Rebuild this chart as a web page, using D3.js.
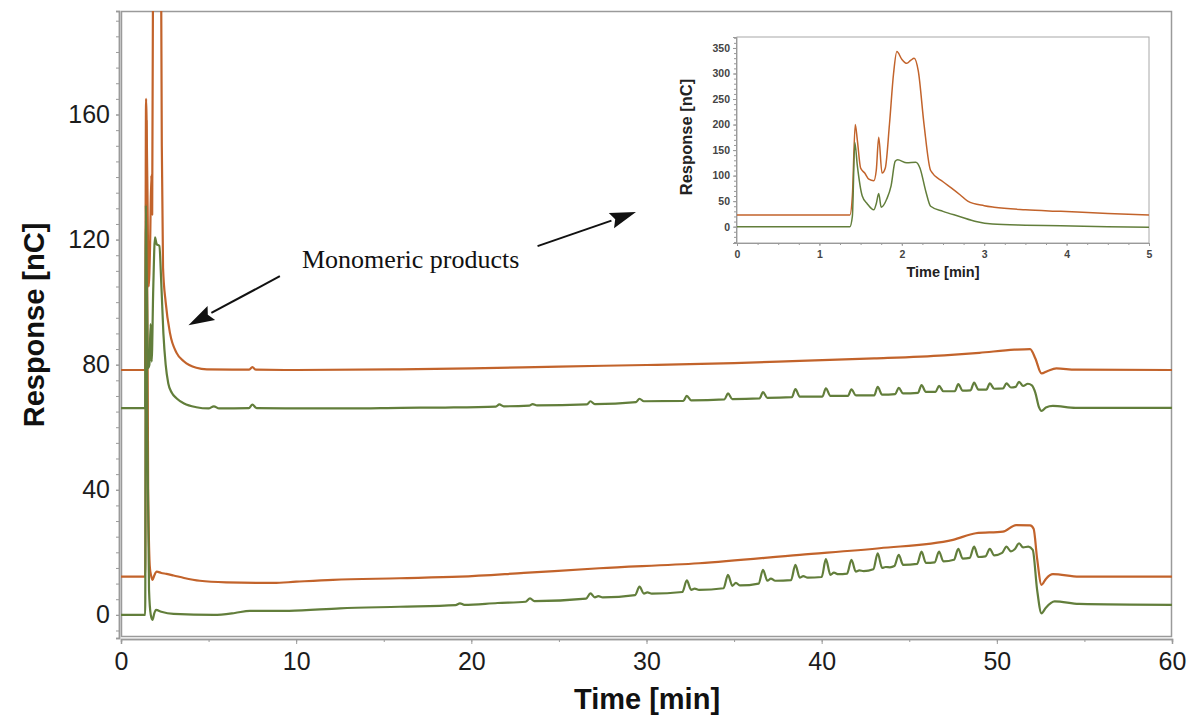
<!DOCTYPE html>
<html>
<head>
<meta charset="utf-8">
<script src="https://cdn.jsdelivr.net/npm/d3@7"></script>
<style>
  html, body { margin: 0; padding: 0; background: #fff; }
  svg { display: block; }
</style>
</head>
<body>
<svg id="chart" width="1191" height="722"></svg>
<script>
// ---- Chromatogram traces: [time (min), response (nC)] ----
const upperOrange = [
  [0,78.3],[1.38,78.3],[1.43,165],[1.5,140],[1.58,105],[1.66,118],[1.73,140.6],[1.78,128],
  [1.85,250],[1.95,343],[2.03,320],[2.15,330],[2.25,260],[2.33,150],[2.4,111],[2.55,100],
  [2.8,90],[3.18,83.7],[3.6,81],[4.3,79],[4.9,78.5],[7.3,78.4],[7.5,79.2],[7.7,78.4],
  [10,78.3],[15.9,78.5],[20,78.8],[25,79.4],[30,79.9],[35,80.5],[38.75,81.2],[43,82],
  [47,83],[49,83.8],[51,84.8],[51.9,85],[52.2,82],[52.55,77.2],[52.9,78],[53.4,78.8],
  [54.5,78.4],[60,78.3]
];
const upperGreen = [
  [0,66.1],[1.38,66.1],[1.42,131],[1.47,108],[1.55,79],[1.62,80],[1.69,93],[1.75,81],
  [1.84,104],[1.94,120.7],[2.04,118.5],[2.19,118],[2.3,106],[2.42,90],[2.55,80],[2.7,74],
  [2.9,71],[3.18,69.2],[3.6,67.6],[4.3,66.4],[5.0,66.0],[5.3,66.7],[5.6,66.0],[7.3,66.1],
  [7.5,67.2],[7.75,66.1],[10,66.0],[13,66.0],[16,66.2],[18.5,66.3],[21.4,66.6],[21.6,67.3],
  [21.85,66.7],[23.3,66.9],[23.5,67.4],[23.75,67.0],[26.6,67.3],[26.8,68.3],[27.05,67.4],
  [29.4,68.0],[29.6,69.1],[29.85,68.3],[32.1,68.4],[32.3,70.0],[32.55,68.6],[34.45,68.9],
  [34.65,70.8],[34.9,69.0],[36.45,69.2],[36.65,71.2],[36.9,69.4],[38.3,69.6],[38.5,72.2],
  [38.75,69.8],[40.04,69.8],[40.24,72.4],[40.5,70.0],[41.5,70.0],[41.7,72.1],[41.95,70.2],
  [43.0,70.2],[43.2,72.9],[43.45,70.4],[44.2,70.6],[44.4,72.6],[44.65,70.8],[45.5,71.0],
  [45.7,73.5],[45.95,71.3],[46.5,71.3],[46.7,73.2],[46.95,71.5],[47.6,71.5],[47.8,73.8],
  [48.05,71.7],[48.5,71.8],[48.7,74.3],[48.95,72.0],[49.4,72.0],[49.6,74.0],[49.85,72.3],
  [50.35,72.4],[50.55,74.0],[50.8,72.7],[51.07,72.9],[51.27,74.5],[51.5,73.2],[51.77,73.9],
  [52.0,73.4],[52.2,71],[52.4,66.5],[52.55,65.2],[52.8,66.3],[53.2,66.8],[54.5,66.2],[60,66.2]
];
const lowerOrange = [
  [0,12.2],[1.38,12.2],[1.45,158],[1.55,40],[1.65,15],[1.72,12.5],[1.8,11.2],[1.9,12.6],
  [2.04,13.8],[2.3,13.4],[2.6,13.1],[3.0,12.6],[3.6,11.8],[4.5,10.9],[6.0,10.4],[8.7,10.2],
  [10,10.6],[12.1,11.2],[15.9,11.7],[19.35,12.2],[23,13.4],[27.3,14.9],[33,16.5],
  [38.75,19.2],[43.3,21.3],[47.5,24.0],[48.8,26.1],[50.35,26.6],[51.1,28.7],[51.9,28.6],
  [52.1,27.5],[52.3,18],[52.55,9.6],[52.8,11.5],[53.2,13.0],[54.7,12.2],[60,12.2]
];
const lowerGreen = [
  [0,0],[1.38,0],[1.43,126],[1.5,60],[1.6,8],[1.7,0],[1.8,-1.6],[1.9,0.5],[2.0,1.6],
  [2.3,1.0],[3.0,0.3],[5.3,0],[6.5,0.6],[7.36,1.3],[9.6,1.3],[12.5,2.1],[15.9,2.6],
  [19.1,3.1],[19.35,3.7],[19.6,3.2],[21.5,3.8],[23.1,4.2],[23.35,5.3],[23.6,4.4],
  [26.55,5.2],[26.8,6.9],[27.05,5.6],[27.25,6.0],[27.5,5.6],[29.35,6.3],[29.6,9.0],
  [29.85,6.8],[30.05,7.2],[30.3,6.8],[32.05,7.3],[32.3,11.0],[32.55,8.0],[32.75,8.4],
  [33.0,8.0],[34.4,8.5],[34.65,12.8],[34.9,9.3],[35.1,10.2],[35.35,9.4],[36.4,10.0],
  [36.65,14.4],[36.9,10.9],[37.1,11.6],[37.35,10.9],[38.25,11.1],[38.5,16.0],[38.75,11.9],
  [38.95,12.4],[39.2,11.9],[40.0,12.1],[40.24,17.8],[40.5,12.8],[40.7,13.5],[40.95,13.0],
  [41.45,13.2],[41.7,17.6],[41.95,13.8],[42.15,14.2],[42.4,14.0],[42.95,14.6],[43.2,19.7],
  [43.45,15.0],[43.65,15.3],[43.9,15.2],[44.15,15.6],[44.4,19.2],[44.65,16.0],[45.45,16.3],
  [45.7,20.2],[45.95,16.6],[46.45,16.8],[46.7,20.2],[46.95,17.1],[47.55,17.6],[47.8,21.1],
  [48.05,18.0],[48.45,18.2],[48.7,21.8],[48.95,18.5],[49.35,18.7],[49.6,21.1],[49.85,19.0],
  [50.3,19.8],[50.55,21.8],[50.8,20.3],[51.02,21.0],[51.27,22.9],[51.5,21.6],[51.8,21.8],
  [52.05,20.8],[52.3,8],[52.55,0.5],[52.8,2.3],[53.3,4.3],[54.7,3.5],[60,3.2]
];

// ---- Inset: first 5 minutes ----
const insetOrange = [
  [0,23],[1.37,23],[1.4,60],[1.435,200],[1.46,170],[1.5,115],[1.55,105],[1.6,93],[1.66,90],
  [1.69,110],[1.72,175],[1.76,105],[1.8,115],[1.85,200],[1.9,300],[1.94,343],[2.0,328],
  [2.06,320],[2.11,326],[2.15,330],[2.2,305],[2.27,200],[2.35,110],[2.5,88],[2.6,76],
  [2.71,62],[2.8,50],[3.0,41],[3.12,38],[3.5,33],[3.93,30],[4.5,26],[5,23]
];
const insetGreen = [
  [0,0],[1.37,0],[1.4,20],[1.43,165],[1.46,120],[1.52,60],[1.58,45],[1.66,33],[1.69,45],
  [1.72,65],[1.75,38],[1.82,55],[1.87,80],[1.92,128],[1.95,131],[2.06,125],[2.17,126],
  [2.22,115],[2.29,70],[2.35,40],[2.5,30],[2.7,20],[2.9,10],[3.1,5],[3.5,3],[3.93,2],
  [4.5,0],[5,-1]
];

// ---- Axis ticks ----
const mainXTicks = [0, 10, 20, 30, 40, 50, 60];
const mainYTicks = [0, 40, 80, 120, 160];
const insetXTicks = [0, 1, 2, 3, 4, 5];
const insetYTicks = [0, 50, 100, 150, 200, 250, 300, 350];

const ORANGE = "#c2632b";
const GREEN = "#627e3b";
const AXIS = "#9a9a9a";
const SANS = "'Liberation Sans', Arial, Helvetica, sans-serif";

const svg = d3.select("#chart");
svg.append("rect").attr("width", 1191).attr("height", 722).attr("fill", "#fff");

// ================= Main panel =================
const box = { left: 121, right: 1172, top: 11, bottom: 636 };
const x = d3.scaleLinear().domain([0, 60]).range([box.left, box.right]);
const y = d3.scaleLinear().domain([-7.4, 193.1]).range([638, box.top]);

svg.append("clipPath").attr("id", "mainClip")
  .append("rect")
  .attr("x", box.left).attr("y", box.top)
  .attr("width", box.right - box.left).attr("height", box.bottom - box.top);

svg.append("rect")
  .attr("x", box.left + 0.5).attr("y", box.top + 0.5)
  .attr("width", box.right - box.left - 1).attr("height", box.bottom - box.top)
  .attr("fill", "none").attr("stroke", AXIS).attr("stroke-width", 1.5);

function styleAxis(g, color, labelFont, domainWidth) {
  g.select(".domain").attr("stroke", color).attr("stroke-width", domainWidth);
  g.selectAll(".tick line").attr("stroke", color).attr("stroke-width", 1);
  g.selectAll(".tick text").attr("fill", labelFont.fill)
    .style("font-family", SANS)
    .style("font-size", labelFont.size).style("font-weight", labelFont.weight);
}

const mainFont = { fill: "#1c1c1c", size: "25px", weight: "normal" };

// minor ticks
const xMinor = d3.range(0, 60.01, 5);
const yMinor = d3.range(-5, 193, 5);
svg.append("g").attr("transform", "translate(0,639)")
  .call(d3.axisBottom(x).tickValues(xMinor).tickSize(3).tickFormat(""))
  .call(g => styleAxis(g, AXIS, mainFont, 1.5));
svg.append("g").attr("transform", "translate(119,0)")
  .call(d3.axisLeft(y).tickValues(yMinor).tickSize(3).tickFormat(""))
  .call(g => styleAxis(g, AXIS, mainFont, 1.5));
// major ticks with labels
svg.append("g").attr("transform", "translate(0,639)")
  .call(d3.axisBottom(x).tickValues(mainXTicks).tickSize(5).tickPadding(8).tickFormat(d3.format("d")))
  .call(g => styleAxis(g, AXIS, mainFont, 1.5));
svg.append("g").attr("transform", "translate(119,0)")
  .call(d3.axisLeft(y).tickValues(mainYTicks).tickSize(3).tickPadding(6).tickFormat(d3.format("d")))
  .call(g => styleAxis(g, AXIS, mainFont, 1.5));

const line = d3.line().x(d => x(d[0])).y(d => y(d[1])).curve(d3.curveMonotoneX);
const traces = svg.append("g").attr("clip-path", "url(#mainClip)");
[[lowerOrange, ORANGE], [lowerGreen, GREEN], [upperOrange, ORANGE], [upperGreen, GREEN]]
  .forEach(([data, color]) => {
    traces.append("path").datum(data)
      .attr("d", line)
      .attr("fill", "none").attr("stroke", color)
      .attr("stroke-width", 2.2).attr("stroke-linejoin", "round");
  });

// axis titles
svg.append("text")
  .attr("transform", "translate(44,325) rotate(-90)")
  .attr("text-anchor", "middle")
  .style("font-family", SANS)
  .style("font-size", "29px").style("font-weight", "bold").attr("fill", "#111")
  .text("Response [nC]");
svg.append("text")
  .attr("x", 647).attr("y", 709)
  .attr("text-anchor", "middle")
  .style("font-family", SANS)
  .style("font-size", "29px").style("font-weight", "bold").attr("fill", "#111")
  .text("Time [min]");

// ---- annotation arrows pointing at the early-eluting peaks ----
function arrow(x1, y1, x2, y2) {
  const ang = Math.atan2(y2 - y1, x2 - x1);
  const len = 26, half = 8, notch = 4;
  const bx = x2 - len * Math.cos(ang), by = y2 - len * Math.sin(ang);
  svg.append("line")
    .attr("x1", x1).attr("y1", y1).attr("x2", bx).attr("y2", by)
    .attr("stroke", "#111").attr("stroke-width", 2);
  const px = -Math.sin(ang) * half, py = Math.cos(ang) * half;
  const nx = x2 - (len - notch) * Math.cos(ang), ny = y2 - (len - notch) * Math.sin(ang);
  svg.append("path")
    .attr("d", `M${x2},${y2} L${bx + px},${by + py} L${nx},${ny} L${bx - px},${by - py} Z`)
    .attr("fill", "#111");
}
arrow(x(9.07), y(108.3), x(3.85), y(92.6));
arrow(x(23.78), y(117.9), x(29.4), y(128.8));

svg.append("text")
  .attr("x", 302).attr("y", 268)
  .style("font-family", "'Liberation Serif', 'Times New Roman', Times, serif")
  .style("font-size", "26px").attr("fill", "#111")
  .text("Monomeric products");

// ================= Inset =================
const ib = { left: 737, right: 1149, top: 37, bottom: 243 };
const ix = d3.scaleLinear().domain([0, 5]).range([ib.left, ib.right]);
const iy = d3.scaleLinear().domain([-32, 371.5]).range([ib.bottom, ib.top]);

svg.append("rect")
  .attr("x", ib.left).attr("y", ib.top)
  .attr("width", ib.right - ib.left).attr("height", ib.bottom - ib.top)
  .attr("fill", "#fff").attr("stroke", "#a8a8a8").attr("stroke-width", 1);

const insetFont = { fill: "#444", size: "10.5px", weight: "bold" };
svg.append("g").attr("transform", `translate(0,${ib.bottom})`)
  .call(d3.axisBottom(ix).tickValues(d3.range(0, 5.001, 0.25)).tickSize(2).tickFormat(""))
  .call(g => styleAxis(g, AXIS, insetFont, 1));
svg.append("g").attr("transform", `translate(${ib.left - 1},0)`)
  .call(d3.axisLeft(iy).tickValues(d3.range(-30, 371, 10)).tickSize(2).tickFormat(""))
  .call(g => styleAxis(g, AXIS, insetFont, 1));
svg.append("g").attr("transform", `translate(0,${ib.bottom})`)
  .call(d3.axisBottom(ix).tickValues(insetXTicks).tickSize(3).tickPadding(5).tickFormat(d3.format("d")))
  .call(g => styleAxis(g, AXIS, insetFont, 1));
svg.append("g").attr("transform", `translate(${ib.left - 1},0)`)
  .call(d3.axisLeft(iy).tickValues(insetYTicks).tickSize(3).tickPadding(3).tickFormat(d3.format("d")))
  .call(g => styleAxis(g, AXIS, insetFont, 1));

svg.append("clipPath").attr("id", "insetClip")
  .append("rect")
  .attr("x", ib.left).attr("y", ib.top)
  .attr("width", ib.right - ib.left).attr("height", ib.bottom - ib.top);

const iline = d3.line().x(d => ix(d[0])).y(d => iy(d[1])).curve(d3.curveMonotoneX);
const itraces = svg.append("g").attr("clip-path", "url(#insetClip)");
[[insetOrange, ORANGE], [insetGreen, GREEN]].forEach(([data, color]) => {
  itraces.append("path").datum(data)
    .attr("d", iline)
    .attr("fill", "none").attr("stroke", color)
    .attr("stroke-width", 1.5).attr("stroke-linejoin", "round");
});

svg.append("text")
  .attr("transform", "translate(692,137) rotate(-90)")
  .attr("text-anchor", "middle")
  .style("font-family", SANS)
  .style("font-size", "16.5px").style("font-weight", "bold").attr("fill", "#222")
  .text("Response [nC]");
svg.append("text")
  .attr("x", 943).attr("y", 277)
  .attr("text-anchor", "middle")
  .style("font-family", SANS)
  .style("font-size", "14.5px").style("font-weight", "bold").attr("fill", "#222")
  .text("Time [min]");
</script>
</body>
</html>
